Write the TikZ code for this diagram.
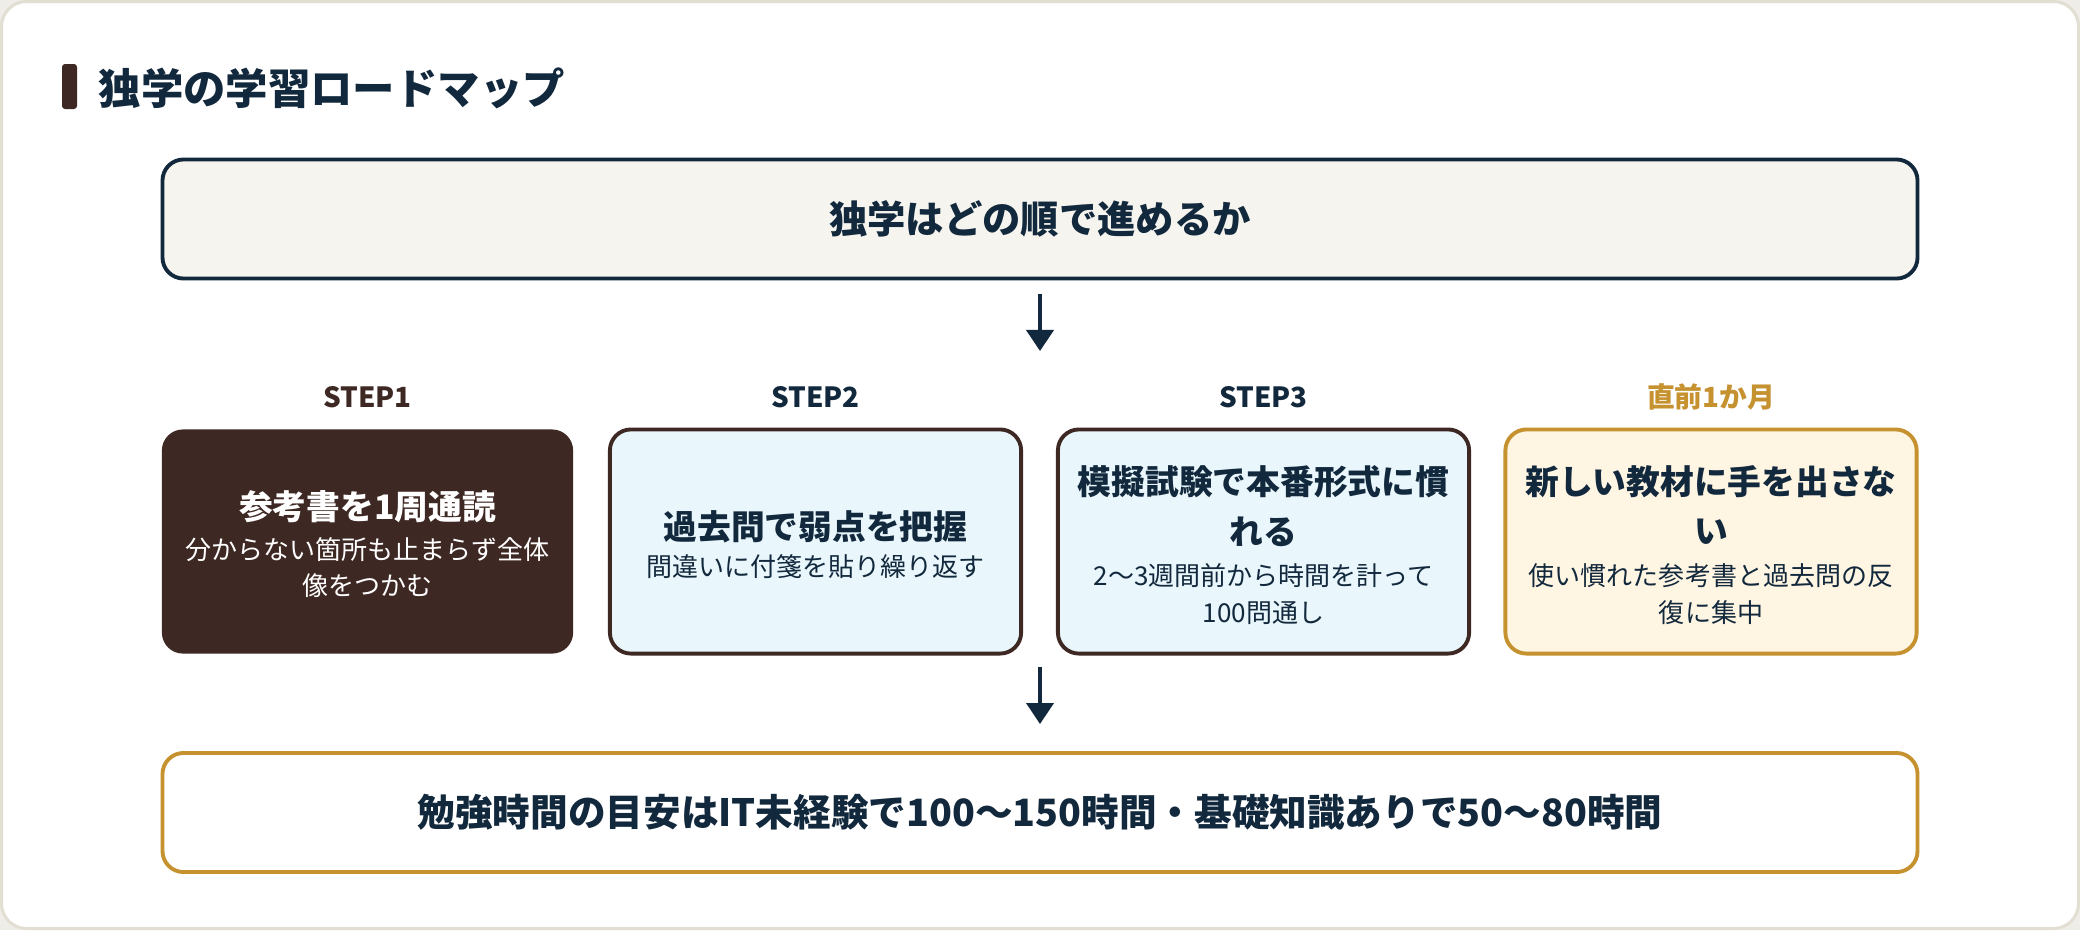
\documentclass[tikz,border=0pt]{standalone}
\usepackage{fontspec}
\setmainfont{Noto Sans CJK JP}
\usetikzlibrary{arrows.meta,positioning}
\definecolor{navy}{HTML}{12283C}
\definecolor{bark}{HTML}{3E2823}
\definecolor{gold}{HTML}{C6922F}
\definecolor{mist}{HTML}{E9F7FC}
\definecolor{cream}{HTML}{FFF5E3}
\definecolor{paper}{HTML}{F5F4EF}
\definecolor{rim}{HTML}{E2DFD2}
\definecolor{backdrop}{HTML}{EFEDE7}

\begin{document}
\begin{tikzpicture}[line cap=round,line join=round,>={Triangle[width=0.27cm,length=0.21cm]},x=0.01cm,y=-0.01cm,
  card/.style={rounded corners=0.21cm,line width=1.1pt,inner sep=0pt},
  wide/.style={card,minimum width=17.54cm,minimum height=1.19cm,font=\fontsize{10.9}{13}\selectfont\bfseries,text=navy},
  stepbox/.style={card,minimum width=4.11cm,minimum height=2.24cm},
  steptag/.style={font=\fontsize{7.9}{9}\selectfont\bfseries,text=navy},
  head/.style={font=\fontsize{9.6}{11}\selectfont\bfseries,text=navy,inner sep=0pt},
  note/.style={font=\fontsize{7.4}{9}\selectfont,text=navy,inner sep=0pt},
  flow/.style={->,line width=0.04cm,draw=navy,line cap=butt}]

%\clip(0,0) rectangle (2080,930);
\useasboundingbox (0,0) rectangle (2080,930);
\fill [backdrop] (0,0) rectangle (2080,930);
\draw [rim,fill=white,line width=0.03cm,rounded corners=0.25cm] (1.5,1.5) rectangle (2078.5,928.5);
%% heading
\fill [bark,rounded corners=0.03cm] (62,64) rectangle (77,109);
\node [anchor=west,inner sep=0pt,font=\fontsize{12.05}{14}\selectfont\bfseries,text=navy] (heading) at (98,88) {独学の学習ロードマップ};
%% question
\node [wide,draw=navy,fill=paper] (ask) at (1040,219) {独学はどの順で進めるか};
%%
\coordinate (a1s) at (1040,294);
\coordinate (a1e) at (1040,351);
\draw [flow] (a1s) -- (a1e);
%% step tags
\node [steptag,text=bark] (tag1) at (367.5,397) {STEP1};
\node [steptag] (tag2) at (815.5,397) {STEP2};
\node [steptag] (tag3) at (1263.5,397) {STEP3};
\node [steptag,text=gold] (tag4) at (1711,397) {直前1か月};
%% step boxes
\node [stepbox,fill=bark] (s1) at (367.5,541.5) {};
\node [stepbox,draw=bark,fill=mist] (s2) at (815.5,541.5) {};
\node [stepbox,draw=bark,fill=mist] (s3) at (1263.5,541.5) {};
\node [stepbox,draw=gold,fill=cream] (s4) at (1711,541.5) {};
%%
\node [head,text=white] (s1h) at (367.5,507) {参考書を1周通読};
\node [note,text=white] (s1n1) at (367.5,550) {分からない箇所も止まらず全体};
\node [note,text=white] (s1n2) at (367.5,586) {像をつかむ};
%%
\node [head] (s2h) at (815.5,527) {過去問で弱点を把握};
\node [note] (s2n1) at (815.5,567) {間違いに付箋を貼り繰り返す};
%%
\node [head] (s3h1) at (1263.5,482) {模擬試験で本番形式に慣};
\node [head] (s3h2) at (1263.5,532) {れる};
\node [note] (s3n1) at (1263.5,576) {2〜3週間前から時間を計って};
\node [note] (s3n2) at (1263.5,613) {100問通し};
%%
\node [head] (s4h1) at (1711,482) {新しい教材に手を出さな};
\node [head] (s4h2) at (1711,532) {い};
\node [note] (s4n1) at (1711,576) {使い慣れた参考書と過去問の反};
\node [note] (s4n2) at (1711,613) {復に集中};
%%
\coordinate (a2s) at (1040,667);
\coordinate (a2e) at (1040,724);
\draw [flow] (a2s) -- (a2e);
%% total hours
\node [wide,draw=gold,fill=white,font=\fontsize{10.7}{13}\selectfont\bfseries] (hours) at (1040,812.5) {勉強時間の目安はIT未経験で100〜150時間・基礎知識ありで50〜80時間};
%%
\end{tikzpicture}
\end{document}
